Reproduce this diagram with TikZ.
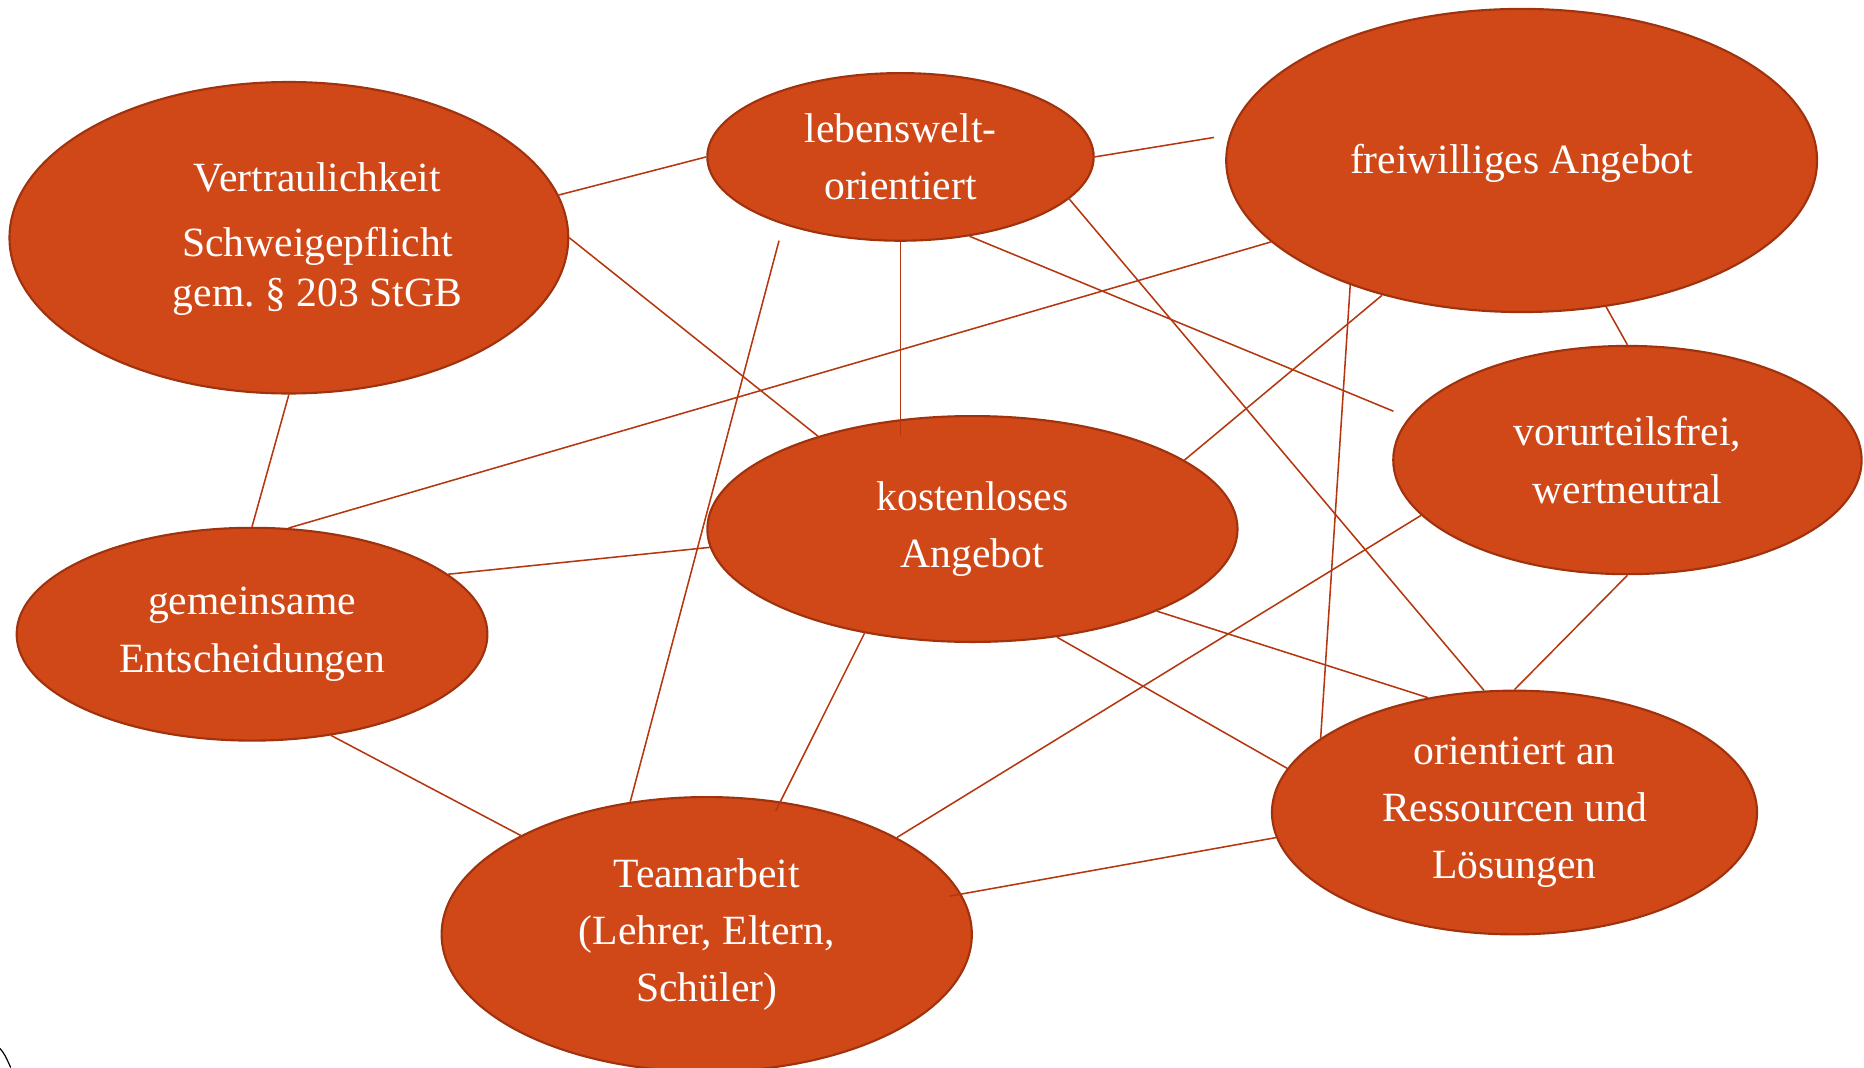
\documentclass[tikz,border=0pt]{standalone}
\usepackage{fontspec}
\setmainfont{Liberation Serif}
\usetikzlibrary{shapes.geometric}
\definecolor{bubblefill}{RGB}{209,72,24}
\definecolor{bubbleedge}{RGB}{160,50,14}
\definecolor{linkcol}{RGB}{180,55,16}
\tikzset{
  bubble/.style={ellipse, draw=bubbleedge, line width=0.9pt, fill=bubblefill,
    inner sep=0pt, text=white, align=center,
    font=\fontsize{17.5}{24}\selectfont,
    execute at begin node={\rule{0pt}{15pt}}},
  bubbletext/.style={text=white, align=center, inner sep=0pt,
    font=\fontsize{17.5}{20.7}\selectfont},
  link/.style={draw=linkcol, line width=0.65pt}
}
\begin{document}
\begin{tikzpicture}[x=0.5pt, y=-0.5pt]
\useasboundingbox (0,0) rectangle (1568,898);
% nodes
\node[bubble, minimum width=235pt, minimum height=131pt] (V) at (243,200) {};
\node[bubbletext] (Vt) at (267,201) {Vertraulichkeit\\[6.8pt]Schweigepflicht\\gem.~§~203 StGB};
\node[bubble, minimum width=162.5pt, minimum height=70.5pt] (L) at (757.5,132) {lebenswelt-\\orientiert};
\node[bubble, minimum width=248.5pt, minimum height=127.5pt] (F) at (1280,135) {freiwilliges Angebot};
\node[bubble, minimum width=197pt, minimum height=96pt] (U) at (1369,387) {vorurteilsfrei,\\wertneutral};
\node[bubble, minimum width=223pt, minimum height=95pt] (K) at (818,445) {kostenloses\\Angebot};
\node[bubble, minimum width=198pt, minimum height=89.5pt] (G) at (212,533.5) {gemeinsame\\Entscheidungen};
\node[bubble, minimum width=223pt, minimum height=115.5pt] (T) at (594.5,786) {Teamarbeit\\(Lehrer, Eltern,\\Schüler)};
\node[bubble, minimum width=204pt, minimum height=102.5pt] (O) at (1274,683.5) {orientiert an\\Ressourcen und\\Lösungen};
% connectors
\path[link] (V.9) -- (L.180);
\path[link, shorten >=6.5pt] (L.0) -- (F.175.4);
\path[link] (V.0) -- (K.149.4);
\path[link] (V.270) -- (G.90);
\path[link] (G.71.3) -- (F.198);
\path[link, shorten <=7pt] (L.210) -- (T.120);
\path[link, shorten >=-9pt] (L.south) -- (L.south |- K.north);
\path[link, shorten >=7pt] (L.311.9) -- (U.169.25);
\path[link] (L.346.3) -- (O.104.4);
\path[link] (F.224.6) -- (K.18.3);
\path[link] (F.216.1) -- (O.159.9);
\path[link] (F.300) -- (U.90);
\path[link] (U.195) -- (T.27.5);
\path[link] (U.270) -- (O.90);
\path[link] (K.336.8) -- (O.127.1);
\path[link] (K.308.2) -- (O.169.4);
\path[link] (K.184.7) -- (G.17.5);
\path[link, shorten >=-4.5pt] (K.224.4) -- (T.61.1);
\path[link] (G.308.1) -- (T.152.5);
\path[link, shorten <=-5pt] (T.9.2) -- (O.186);
% stray mark in the corner
\coordinate (m1) at (0,882);
\coordinate (m2) at (9,898);
\draw[black, line width=0.5pt] (m1) .. controls (4,887) .. (m2);
\end{tikzpicture}
\end{document}
